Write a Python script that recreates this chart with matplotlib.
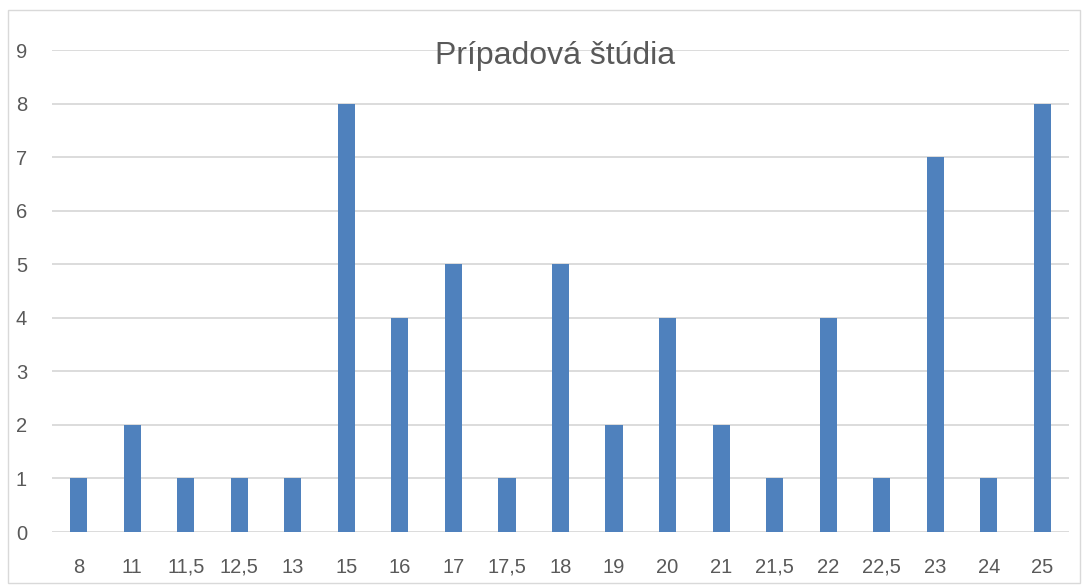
import matplotlib
matplotlib.use("Agg")
import matplotlib.pyplot as plt
from matplotlib.patches import Rectangle

plt.rcParams['font.family'] = ['Liberation Sans', 'DejaVu Sans']

# dáta z grafu
kategorie = ["8", "11", "11,5", "12,5", "13", "15", "16", "17", "17,5", "18",
             "19", "20", "21", "21,5", "22", "22,5", "23", "24", "25"]
pocty = [1, 2, 1, 1, 1, 8, 4, 5, 1, 5, 2, 4, 2, 1, 4, 1, 7, 1, 8]

W, H = 1088, 587
fig = plt.figure(figsize=(W / 100, H / 100), dpi=100)
ax = fig.add_axes([52 / W, 1 - 532 / H, (1069 - 52) / W, (532 - 50) / H])

x = list(range(len(kategorie)))
ax.bar(x, pocty, width=0.32, color='#4f81bd', zorder=3)

ax.set_xlim(-0.5, len(kategorie) - 0.5)
ax.set_ylim(0, 9)
ax.set_yticks(range(10))
ax.set_xticks(x)
ax.set_xticklabels([])
ax.grid(axis='y', color='#d9d9d9', linewidth=1.3, zorder=0)
for s in ax.spines.values():
    s.set_visible(False)
ax.tick_params(axis='both', length=0, labelsize=14.5, labelcolor='#595959')
ax.tick_params(axis='y', pad=18)

# popisky osi x zarovnané na účiarie
for i, k in zip(x, kategorie):
    ax.text(i, -0.085, k, transform=ax.get_xaxis_transform(), ha='center',
            va='baseline', fontsize=14.5, color='#595959')

fig.text(555 / W, 1 - 56 / H, "Prípadová štúdia", ha='center', va='center',
         fontsize=23, color='#595959')

fig.patches.append(Rectangle((8 / W, 1 - 583 / H), (1080 - 8) / W, (583 - 10) / H,
                             transform=fig.transFigure, fill=False,
                             edgecolor='#d9d9d9', linewidth=1))

fig.savefig("out.png", dpi=100)
